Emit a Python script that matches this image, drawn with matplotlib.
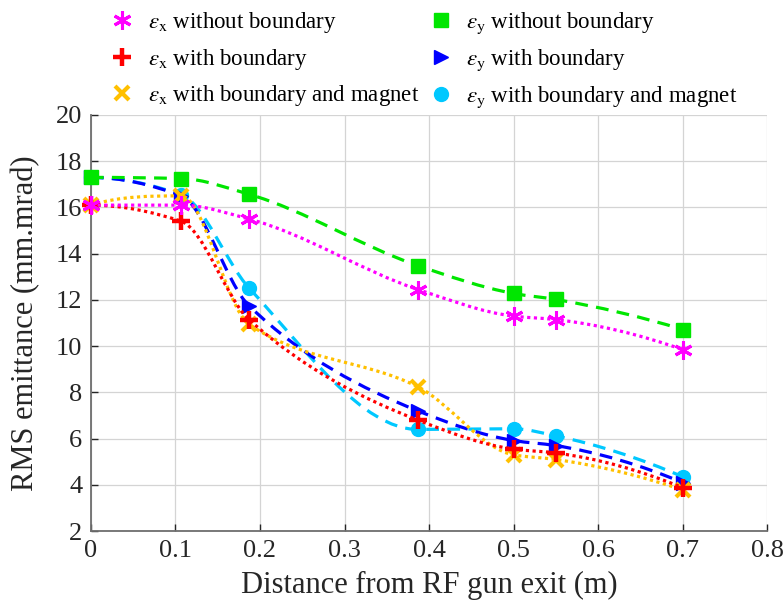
import numpy as np
import matplotlib
matplotlib.use('Agg')
import matplotlib.pyplot as plt
from matplotlib.path import Path
from matplotlib.patches import PathPatch
from matplotlib.lines import Line2D

plt.rcParams['font.family'] = ['Liberation Serif', 'DejaVu Serif']
plt.rcParams['mathtext.fontset'] = 'stix'

# distance from RF gun exit (m)
dist = [0, 0.107, 0.187, 0.387, 0.5, 0.55, 0.7]

# RMS emittance (mm.mrad)
ex_no_bound = [16.1, 16.1, 15.5, 12.45, 11.3, 11.15, 9.85]
ey_no_bound = [17.3, 17.25, 16.57, 13.48, 12.28, 12.02, 10.72]
ex_bound = [16.1, 15.4, 11.15, 6.8, 5.55, 5.38, 3.88]
ey_bound = [17.3, 16.5, 11.75, 7.2, 5.92, 5.7, 4.1]
ex_magnet = [16.1, 16.5, 10.95, 8.24, 5.3, 5.1, 3.78]
ey_magnet = [17.3, 16.55, 12.52, 6.4, 6.43, 6.12, 4.35]

labels = [r'$\epsilon_{\mathrm{x}}$ without boundary',
          r'$\epsilon_{\mathrm{x}}$ with boundary',
          r'$\epsilon_{\mathrm{x}}$ with boundary and magnet',
          r'$\epsilon_{\mathrm{y}}$ without boundary',
          r'$\epsilon_{\mathrm{y}}$ with boundary',
          r'$\epsilon_{\mathrm{y}}$ with boundary and magnet']


def pchip_slopes(x, y):
    h = np.diff(x)
    delta = np.diff(y) / h
    n = len(x)
    d = np.zeros(n)
    for k in range(1, n - 1):
        if delta[k - 1] * delta[k] > 0:
            w1 = 2 * h[k] + h[k - 1]
            w2 = h[k] + 2 * h[k - 1]
            d[k] = (w1 + w2) / (w1 / delta[k - 1] + w2 / delta[k])
    for k, (ha, hb, da, db) in ((0, (h[0], h[1], delta[0], delta[1])),
                                (n - 1, (h[-1], h[-2], delta[-1], delta[-2]))):
        e = ((2 * ha + hb) * da - ha * db) / (ha + hb)
        if np.sign(e) != np.sign(da):
            e = 0.0
        elif np.sign(da) != np.sign(db) and abs(e) > abs(3 * da):
            e = 3 * da
        d[k] = e
    return d


def smooth_path(x, y):
    # cubic bezier segments through the data points
    x = np.asarray(x, float)
    y = np.asarray(y, float)
    d = pchip_slopes(x, y)
    verts = [(x[0], y[0])]
    codes = [Path.MOVETO]
    for i in range(len(x) - 1):
        h = x[i + 1] - x[i]
        verts += [(x[i] + h / 3, y[i] + d[i] * h / 3),
                  (x[i + 1] - h / 3, y[i + 1] - d[i + 1] * h / 3),
                  (x[i + 1], y[i + 1])]
        codes += [Path.CURVE4] * 3
    return Path(verts, codes)


fig = plt.figure(figsize=(7.83, 6.05), dpi=100)
ax = fig.add_axes([0.116, 0.122, 0.864, 0.688])

dot = (0, (1, 1.1))
dash = (0, (4, 2.6))

# (data, color, linestyle, marker, ms, mew, z)
series = [
    (ey_magnet, '#00c8ff', dash, 'o', 10, 1, 3),
    (ey_bound, '#0000ff', dash, '>', 10, 1, 4),
    (ex_magnet, '#ffc000', dot, 'x', 10, 3, 5),
    (ex_bound, '#ff0000', dot, '+', 13, 3.2, 6),
    (ey_no_bound, '#00e600', dash, 's', 9.5, 1, 7),
    (ex_no_bound, '#ff00ff', dot, (6, 2, 0), 13, 2.2, 8),
]

for vals, col, ls, mk, ms, mew, z in series:
    patch = PathPatch(smooth_path(dist, vals), fill=False, edgecolor=col,
                      lw=2.3, linestyle=ls, zorder=z, capstyle='butt')
    ax.add_patch(patch)
    ax.plot(dist, vals, linestyle='none', marker=mk, ms=ms, mew=mew,
            color=col, mec=col, zorder=z + 0.5, clip_on=False)

ax.set_xlim(0, 0.8)
ax.set_ylim(2, 20)
ax.set_xticks(np.arange(0, 0.81, 0.1))
ax.set_xticklabels(['0', '0.1', '0.2', '0.3', '0.4', '0.5', '0.6', '0.7', '0.8'])
ax.set_yticks(np.arange(2, 21, 2))
ax.tick_params(direction='in', length=5, width=1, labelsize=19,
               colors='#262626', pad=6)
ax.grid(True, color='#d4d4d4', lw=0.9)
ax.set_axisbelow(True)
for s in ['top', 'right']:
    ax.spines[s].set_visible(False)
for s in ['left', 'bottom']:
    ax.spines[s].set_color('#6e6e6e')
    ax.spines[s].set_linewidth(1.3)

ax.set_xlabel('Distance from RF gun exit (m)', fontsize=22, color='#262626',
              labelpad=7)
ax.set_ylabel('RMS emittance (mm.mrad)', fontsize=22, color='#262626',
              labelpad=11)

# legend with markers only
handles = [
    Line2D([], [], ls='none', marker=(6, 2, 0), ms=13, mew=2.2, color='#ff00ff'),
    Line2D([], [], ls='none', marker='+', ms=13, mew=3.2, color='#ff0000'),
    Line2D([], [], ls='none', marker='x', ms=10, mew=3, color='#ffc000'),
    Line2D([], [], ls='none', marker='s', ms=9.5, color='#00e600'),
    Line2D([], [], ls='none', marker='>', ms=10, color='#0000ff'),
    Line2D([], [], ls='none', marker='o', ms=10, color='#00c8ff'),
]
fig.legend(handles, labels, ncol=2, loc='upper left',
           bbox_to_anchor=(0.127, 1.002), frameon=False, fontsize=16.5,
           borderpad=0, handlelength=1.0, handletextpad=0.6,
           columnspacing=0.45, labelspacing=0.5)

fig.savefig('out.png', dpi=100)
